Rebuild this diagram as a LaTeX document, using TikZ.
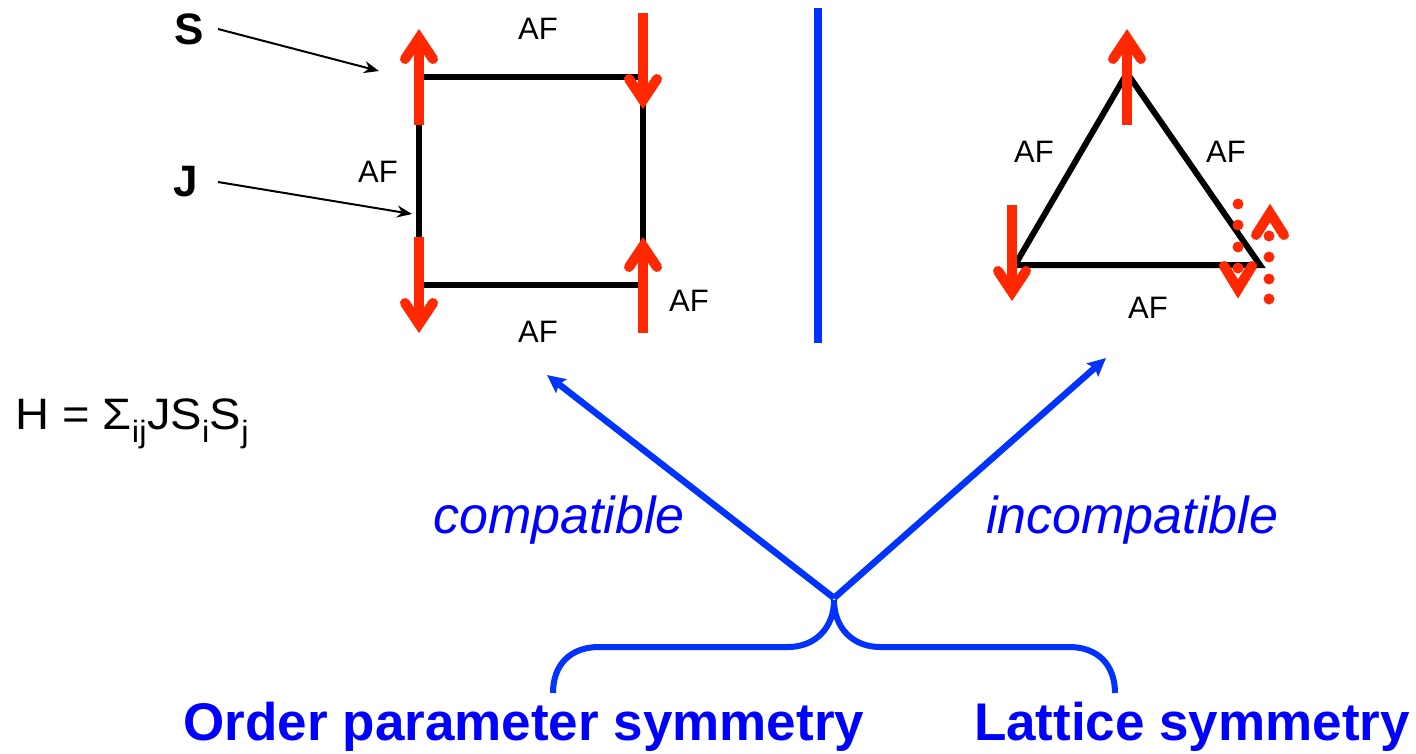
\documentclass[tikz,border=0pt]{standalone}
\usepackage{graphicx}
\usepackage{fontspec}
\setmainfont{Liberation Sans}
\usetikzlibrary{arrows.meta}
\definecolor{spinred}{RGB}{255,40,0}
\definecolor{lineblue}{RGB}{0,51,255}
\definecolor{textblue}{RGB}{0,0,255}
\newcommand\spinup[3]{% x, y of tail, y of tip
  \draw[spinshaft] (#1,#2) -- (#1,#3+8);
  \draw[spinhead] (#1-14,#3+29) -- (#1,#3+8) -- (#1+14,#3+29);}
\newcommand\spindown[3]{%
  \draw[spinshaft] (#1,#2) -- (#1,#3-8);
  \draw[spinhead] (#1-14,#3-29) -- (#1,#3-8) -- (#1+14,#3-29);}
\begin{document}
\begin{tikzpicture}[x=1pt,y=-1pt,
  bond/.style={draw=black,line width=6pt,line join=miter},
  spinshaft/.style={draw=spinred,line width=10.5pt,line cap=butt},
  spinhead/.style={draw=spinred,line width=10pt,line cap=round,line join=miter},
  dotspin/.style={fill=spinred,draw=none},
  aflabel/.style={inner sep=0pt,font=\fontsize{31}{31}\selectfont},
  boldlabel/.style={inner sep=0pt,font=\bfseries\fontsize{44}{44}\selectfont},
  pointer/.style={draw=black,line width=2pt,-{Stealth[length=15pt,width=12pt]}},
  bluearrow/.style={draw=lineblue,line width=6.5pt,-{Stealth[length=18pt,width=17pt,inset=3pt]}},
  bluetext/.style={text=textblue,inner sep=0pt}]
\useasboundingbox (0,0) rectangle (1416,753);

% ---- square lattice ----
\coordinate (A) at (419,77);
\coordinate (B) at (643,77);
\coordinate (C) at (643,285);
\coordinate (D) at (419,285);
\draw[bond] (A) -- (B) -- (C) -- (D) -- cycle;
\spinup{419}{125}{30}
\spindown{643}{13}{108}
\spindown{419}{237}{332}
\spinup{643}{333}{238}
\node[aflabel] (af1) at (538,29) {AF};
\node[aflabel] (af2) at (378,172) {AF};
\node[aflabel] (af3) at (538,332) {AF};
\node[aflabel] (af4) at (689,301) {AF};

% ---- S and J pointers ----
\node[boldlabel] (S) at (189,29) {S};
\node[boldlabel] (J) at (186,182) {J};
\coordinate (Ss) at (218,29);
\coordinate (Se) at (379,71);
\coordinate (Js) at (218,182);
\coordinate (Je) at (412,214);
\draw[pointer] (Ss) -- (Se);
\draw[pointer] (Js) -- (Je);

% ---- separator ----
\coordinate (V1) at (818,8);
\coordinate (V2) at (818,343);
\draw[draw=lineblue,line width=7.5pt] (V1) -- (V2);

% ---- triangular lattice ----
\coordinate (T1) at (1127,73);
\coordinate (T2) at (1015,265);
\coordinate (T3) at (1260,265);
\draw[bond] (T1) -- (T2) -- (T3) -- cycle;
\spinup{1127}{125}{30}
\spindown{1012}{205}{300}
% frustrated spin: dotted shafts with heads
\draw[spinhead] (1224,266) -- (1238,289) -- (1252,266);
\draw[spinhead] (1256,235) -- (1270,213) -- (1284,235);
\foreach \yy in {204,225,247,268} \fill[dotspin] (1238,\yy) circle (5.5pt);
\foreach \yy in {236,257,279,299} \fill[dotspin] (1269,\yy) circle (5.5pt);
\node[aflabel] (af5) at (1034,152) {AF};
\node[aflabel] (af6) at (1226,152) {AF};
\node[aflabel] (af7) at (1148,308) {AF};

% ---- Hamiltonian ----
\node[anchor=base west,inner sep=0pt,font=\fontsize{44}{44}\selectfont] (H) at (15,429)
  {\scalebox{1.07}[1]{H = Σ\textsubscript{ij}JS\textsubscript{i}S\textsubscript{j}}};

% ---- arrows and brace ----
\coordinate (X) at (834,598);
\coordinate (P1) at (547,375);
\coordinate (P2) at (1106,358);
\draw[bluearrow] (X) -- (P1);
\draw[bluearrow] (X) -- (P2);
\draw[draw=lineblue,line width=6pt]
  (553,693) .. controls (553,665) and (570,647) .. (599,647) -- (788,647)
  .. controls (815,647) and (834,628) .. (834,600)
  .. controls (834,628) and (853,647) .. (880,647) -- (1069,647)
  .. controls (1098,647) and (1115,665) .. (1115,693);

\node[bluetext,anchor=base,font=\itshape\fontsize{52}{52}\selectfont] (compat) at (559,533) {compatible};
\node[bluetext,anchor=base,font=\itshape\fontsize{52}{52}\selectfont] (incompat) at (1132,533) {incompatible};
\node[bluetext,anchor=base,font=\bfseries\fontsize{53}{53}\selectfont] (ops) at (524,740) {Order parameter symmetry};
\node[bluetext,anchor=base,font=\bfseries\fontsize{53}{53}\selectfont] (ls) at (1192,740) {Lattice symmetry};
\end{tikzpicture}
\end{document}
